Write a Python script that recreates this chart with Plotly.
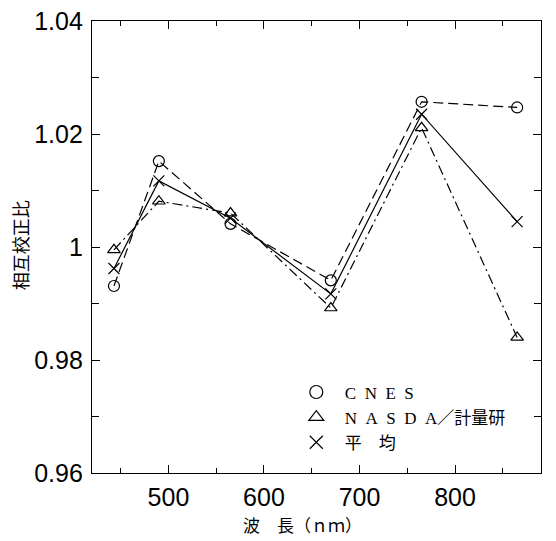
import plotly.graph_objects as go

wavelength = [443, 490, 565, 670, 765, 865]
cnes = [0.9931, 1.0152, 1.0041, 0.9941, 1.0257, 1.0247]
nasda = [0.9995, 1.0081, 1.0060, 0.9892, 1.0211, 0.9840]
mean = [0.9962, 1.0117, 1.0051, 0.9917, 1.0235, 1.0045]

names = ["\u2002C\u2002N\u2002E\u2002S", "\u2002N\u2002A\u2002S\u2002D\u2002A／計量研", "\u2002平　均"]
symbols = ["circle-open", "triangle-up-open", "x-thin-open"]
dashes = ["10px,5px", "10px,4px,2px,4px", "solid"]
series = [cnes, nasda, mean]

y_ticks = [0.96, 0.98, 1.00, 1.02, 1.04]
y_ticktext = ["0.96", "0.98", "1", "1.02", "1.04"]
x_ticks = [500, 600, 700, 800]

fig = go.Figure()
for vals, sym, dash in zip(series, symbols, dashes):
    fig.add_trace(go.Scatter(
        x=wavelength, y=vals, mode="lines+markers", showlegend=False,
        line=dict(color="black", width=1.2, dash=dash),
        marker=dict(symbol=sym, size=11, color="black", line=dict(color="black", width=1.2)),
    ))
for name, sym in zip(names, symbols):
    fig.add_trace(go.Scatter(
        x=[None], y=[None], mode="markers", name=name,
        marker=dict(symbol=sym, size=13, color="black", line=dict(color="black", width=1.2)),
    ))

axis_common = dict(
    showline=True, linecolor="black", linewidth=1.3, mirror="allticks",
    ticks="inside", tickcolor="black", tickwidth=1.2, showgrid=False, zeroline=False,
    ticklabeloverflow="allow", automargin=False,
    tickfont=dict(family="Liberation Sans, Arial, sans-serif", size=25, color="black"),
)
fig.update_xaxes(range=[420, 890], tickvals=x_ticks, ticklen=8, ticklabelstandoff=2,
                 minor=dict(dtick=50, tick0=450, ticks="inside", ticklen=5, tickcolor="black", tickwidth=1.2),
                 **axis_common)
fig.update_yaxes(range=[0.96, 1.04], tickvals=y_ticks, ticktext=y_ticktext, ticklen=8, ticklabelstandoff=3,
                 minor=dict(dtick=0.01, tick0=0.96, ticks="inside", ticklen=7, tickcolor="black", tickwidth=1.2),
                 **axis_common)

fig.update_layout(
    width=556, height=541,
    margin=dict(l=84, r=23, t=13, b=76),
    paper_bgcolor="white", plot_bgcolor="white",
    legend=dict(x=0.455, y=0.218, xanchor="left", yanchor="top",
                font=dict(family="Liberation Serif, Noto Sans CJK JP", size=17, color="black"),
                bgcolor="rgba(0,0,0,0)"),
    annotations=[
        dict(text="相互校正比", xref="paper", yref="paper", x=-0.16, y=0.504,
             xanchor="center", yanchor="middle", textangle=-90, showarrow=False,
             font=dict(family="Noto Sans CJK JP", size=18, color="black")),
        dict(text="波　長（ｎｍ）", xref="paper", yref="paper", x=0.468, y=-0.115,
             xanchor="center", yanchor="middle", showarrow=False,
             font=dict(family="Noto Sans CJK JP", size=17, color="black")),
    ],
)
fig.write_html("out.html")
